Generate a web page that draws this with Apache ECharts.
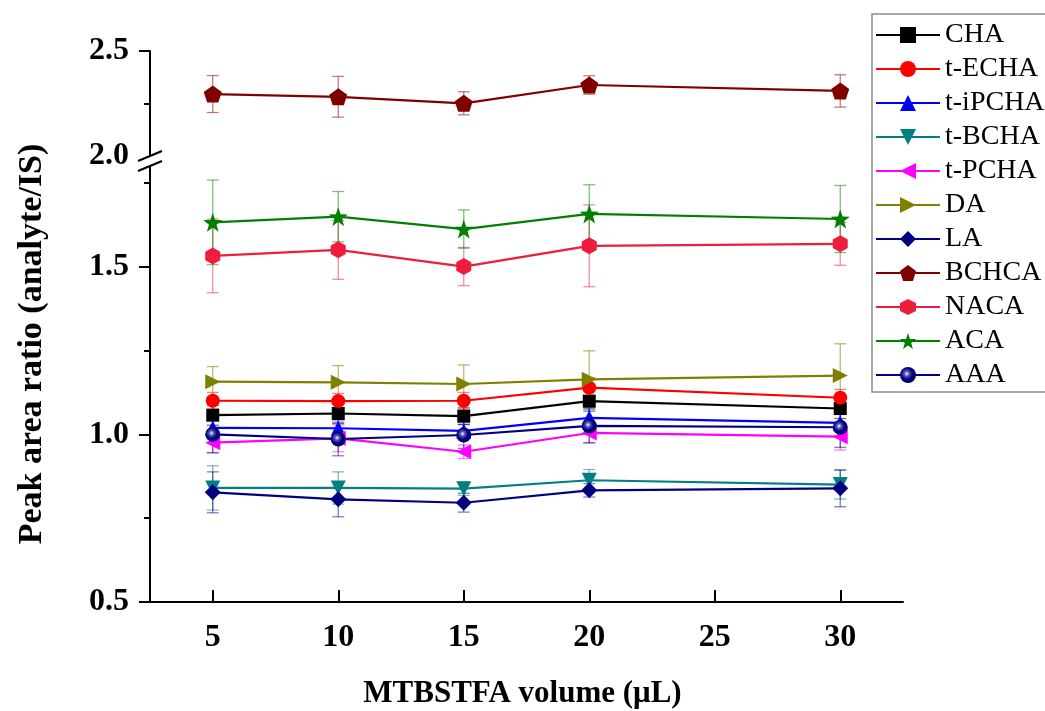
<!DOCTYPE html>
<html><head><meta charset="utf-8">
<script src="https://cdn.jsdelivr.net/npm/echarts@6/dist/echarts.min.js"></script>
<style>html,body{margin:0;padding:0;background:#fff}#c{width:1045px;height:711px}</style>
</head><body><div id="c"></div>
<script>
// ---------------- data ----------------
const xValues = [5, 10, 15, 20, 30];
const xTicks = [5, 10, 15, 20, 25, 30];
const yLowTicks = [0.5, 1.0, 1.5];
const yLowMinor = [0.75, 1.25, 1.75];
const yHighTicks = [2.0, 2.5];
const yHighMinor = [2.25];

const seriesNames = ['CHA', 't-ECHA', 't-iPCHA', 't-BCHA', 't-PCHA', 'DA', 'LA', 'BCHCA', 'NACA', 'ACA', 'AAA'];

const CHA      = [1.057, 1.062, 1.054, 1.099, 1.077];
const CHA_err  = [0.030, 0.030, 0.025, 0.030, 0.030];
const tECHA     = [1.100, 1.099, 1.100, 1.139, 1.109];
const tECHA_err = [0.025, 0.023, 0.025, 0.030, 0.025];
const tiPCHA     = [1.019, 1.018, 1.010, 1.049, 1.034];
const tiPCHA_err = [0.030, 0.025, 0.020, 0.030, 0.025];
const tBCHA     = [0.840, 0.840, 0.838, 0.863, 0.850];
const tBCHA_err = [0.066, 0.048, 0.020, 0.032, 0.043];
const tPCHA     = [0.975, 0.988, 0.948, 1.004, 0.993];
const tPCHA_err = [0.030, 0.040, 0.020, 0.030, 0.040];
const DA     = [1.157, 1.155, 1.150, 1.164, 1.175];
const DA_err = [0.045, 0.050, 0.057, 0.085, 0.095];
const LA     = [0.827, 0.806, 0.796, 0.833, 0.839];
const LA_err = [0.061, 0.052, 0.028, 0.020, 0.055];
const BCHCA     = [2.295, 2.282, 2.251, 2.338, 2.310];
const BCHCA_err = [0.088, 0.097, 0.055, 0.044, 0.077];
const NACA     = [1.532, 1.550, 1.500, 1.562, 1.568];
const NACA_err = [0.110, 0.088, 0.057, 0.122, 0.064];
const ACA     = [1.632, 1.649, 1.612, 1.657, 1.642];
const ACA_err = [0.126, 0.075, 0.057, 0.087, 0.100];
const AAA     = [1.000, 0.986, 0.998, 1.025, 1.021];
const AAA_err = [0.055, 0.050, 0.040, 0.050, 0.060];

const values = [CHA, tECHA, tiPCHA, tBCHA, tPCHA, DA, LA, BCHCA, NACA, ACA, AAA];
const errors = [CHA_err, tECHA_err, tiPCHA_err, tBCHA_err, tPCHA_err, DA_err, LA_err, BCHCA_err, NACA_err, ACA_err, AAA_err];
const upperSeries = ['BCHCA'];

// ---------------- styles ----------------
const FONT = '"Liberation Serif", "Times New Roman", serif';
const colors = ['#000000', '#ff0000', '#0000ff', '#008080', '#ff00ff', '#808000', '#000080', '#800000', '#ee1d3b', '#008000', '#000080'];
const errColors = ['rgba(0,0,0,0.55)', 'rgba(255,0,0,0.5)', 'rgba(0,0,255,0.5)', 'rgba(0,128,128,0.5)', 'rgba(255,0,255,0.5)', 'rgba(128,128,0,0.55)', 'rgba(0,0,128,0.5)', 'rgba(128,0,0,0.5)', 'rgba(238,29,59,0.5)', 'rgba(0,128,0,0.5)', 'rgba(0,0,128,0.5)'];
const PENT = 'path://M0,-1 L0.951,-0.309 L0.588,0.809 L-0.588,0.809 L-0.951,-0.309 Z';
const HEX = 'path://M-0.866,-0.5 L0,-1 L0.866,-0.5 L0.866,0.5 L0,1 L-0.866,0.5 Z';
const STAR = 'path://M0,-1 L0.235,-0.324 L0.951,-0.309 L0.380,0.124 L0.588,0.809 L0,0.4 L-0.588,0.809 L-0.380,0.124 L-0.951,-0.309 L-0.235,-0.324 Z';
const symbols = ['rect', 'circle', 'triangle', 'triangle', 'triangle', 'triangle', 'diamond', PENT, HEX, STAR, 'circle'];
const symRot = [0, 0, 0, 180, 90, -90, 0, 0, 0, 0, 0];
const symSize = [13, 14, 15, 15, 15, 15, 16, [18, 17], [15, 17], 19, 15];
const aaaFill = {type: 'radial', x: 0.42, y: 0.42, r: 0.6, colorStops: [
  {offset: 0, color: '#ffffff'}, {offset: 0.25, color: '#5a5ab8'}, {offset: 0.6, color: '#000080'}, {offset: 1, color: '#000060'}]};

const chart = echarts.init(document.getElementById('c'), null, {renderer: 'canvas'});

const series = [];
seriesNames.forEach((name, i) => {
  const up = upperSeries.includes(name);
  const ax = up ? 1 : 0;
  const yax = up ? 2 : 0;
  series.push({
    type: 'custom', name: name + ' err', xAxisIndex: ax, yAxisIndex: yax, z: 1, silent: true,
    data: xValues.map((x, k) => [x, values[i][k], errors[i][k]]),
    encode: {x: 0, y: 1},
    renderItem: (params, api) => {
      const x = api.value(0), y = api.value(1), e = api.value(2);
      const t = api.coord([x, y + e]), b = api.coord([x, y - e]);
      const hw = 6;
      const st = {stroke: errColors[i], lineWidth: 1.3};
      return {type: 'group', children: [
        {type: 'line', shape: {x1: t[0], y1: t[1], x2: b[0], y2: b[1]}, style: st},
        {type: 'line', shape: {x1: t[0] - hw, y1: t[1], x2: t[0] + hw, y2: t[1]}, style: st},
        {type: 'line', shape: {x1: b[0] - hw, y1: b[1], x2: b[0] + hw, y2: b[1]}, style: st}
      ]};
    }
  });
  series.push({
    type: 'line', name: name, xAxisIndex: ax, yAxisIndex: yax, z: 3,
    data: xValues.map((x, k) => [x, values[i][k]]),
    symbol: symbols[i], symbolSize: symSize[i], symbolRotate: symRot[i],
    showAllSymbol: true,
    lineStyle: {color: colors[i], width: 2.2},
    itemStyle: {color: name === 'AAA' ? aaaFill : colors[i], borderWidth: 0},
    color: colors[i],
    emphasis: {disabled: true},
    animation: false
  });
});

const axisLbl = (vals) => ({
  customValues: vals, fontFamily: FONT, fontWeight: 'bold', fontSize: 32, color: '#000',
  formatter: v => Number(v).toFixed(1)
});

const option = {
  animation: false,
  grid: [
    {left: 150, right: 142, top: 166, bottom: 109, outerBoundsMode: 'none', containLabel: false},
    {left: 150, right: 142, top: 51, bottom: 555, outerBoundsMode: 'none', containLabel: false}
  ],
  xAxis: [
    {type: 'value', gridIndex: 0, min: 2.5, max: 32.5,
     axisLine: {show: true, lineStyle: {color: '#000', width: 2}},
     axisTick: {show: true, inside: true, length: 12, customValues: xTicks, lineStyle: {color: '#000', width: 2}},
     axisLabel: {customValues: xTicks, margin: 20, fontFamily: FONT, fontWeight: 'bold', fontSize: 32, color: '#000'},
     splitLine: {show: false},
     name: 'MTBSTFA volume (μL)', nameLocation: 'middle', nameGap: 76,
     nameTextStyle: {fontFamily: FONT, fontWeight: 'bold', fontSize: 31, color: '#000', padding: [0, 8, 0, 0]}},
    {type: 'value', gridIndex: 1, min: 2.5, max: 32.5, show: false, splitLine: {show: false}}
  ],
  yAxis: [
    {type: 'value', gridIndex: 0, position: 'left', min: 0.5, max: 1.8,
     axisLine: {show: true, lineStyle: {color: '#000', width: 2}},
     axisTick: {show: true, length: 11, customValues: yLowTicks, lineStyle: {color: '#000', width: 2}},
     axisLabel: Object.assign(axisLbl(yLowTicks), {margin: 21}),
     splitLine: {show: false}},
    {type: 'value', gridIndex: 0, position: 'left', offset: 0, min: 0.5, max: 1.8,
     axisLine: {show: false, onZero: false},
     axisTick: {show: true, length: 6, customValues: yLowMinor, lineStyle: {color: '#000', width: 2}},
     axisLabel: {show: false}, splitLine: {show: false}},
    {type: 'value', gridIndex: 1, position: 'left', min: 2.0, max: 2.5,
     axisLine: {show: true, lineStyle: {color: '#000', width: 2}},
     axisTick: {show: true, length: 11, customValues: [2.5], lineStyle: {color: '#000', width: 2}},
     axisLabel: Object.assign(axisLbl(yHighTicks), {margin: 21}),
     splitLine: {show: false}},
    {type: 'value', gridIndex: 1, position: 'left', offset: 0, min: 2.0, max: 2.5,
     axisLine: {show: false, onZero: false},
     axisTick: {show: true, length: 6, customValues: yHighMinor, lineStyle: {color: '#000', width: 2}},
     axisLabel: {show: false}, splitLine: {show: false}}
  ],
  legend: {
    data: seriesNames, orient: 'vertical', left: 872, top: 14,
    itemWidth: 64, itemHeight: 20, itemGap: 6,
    padding: [7, 6, 3, 3],
    borderColor: '#8c8c8c', borderWidth: 1.5,
    textStyle: {fontFamily: FONT, fontSize: 28, color: '#000'},
    selectedMode: false
  },
  series: series
};
chart.setOption(option);

// Axis break marks and y-axis title (decorations)
const pTop = chart.convertToPixel({xAxisIndex: 1, yAxisIndex: 2}, [2.5, 2.0]);
const pLow = chart.convertToPixel({xAxisIndex: 0, yAxisIndex: 0}, [2.5, 1.8]);
const slash = (cx, cy) => ({type: 'line', shape: {x1: cx - 12, y1: cy + 5, x2: cx + 12, y2: cy - 5},
  style: {stroke: '#000', lineWidth: 2}, z: 10});
chart.setOption({
  graphic: [
    {type: 'rect', shape: {x: pTop[0] - 3, y: pTop[1], width: 6, height: pLow[1] - pTop[1]}, style: {fill: '#fff'}, z: 9},
    slash(pTop[0], pTop[1]),
    slash(pLow[0], pLow[1]),
    {type: 'text', x: 32, y: 344, rotation: Math.PI / 2,
     style: {text: 'Peak area ratio (analyte/IS)', font: 'bold 34px ' + FONT, fill: '#000', align: 'center', verticalAlign: 'middle'}}
  ]
});
</script>
</body></html>
